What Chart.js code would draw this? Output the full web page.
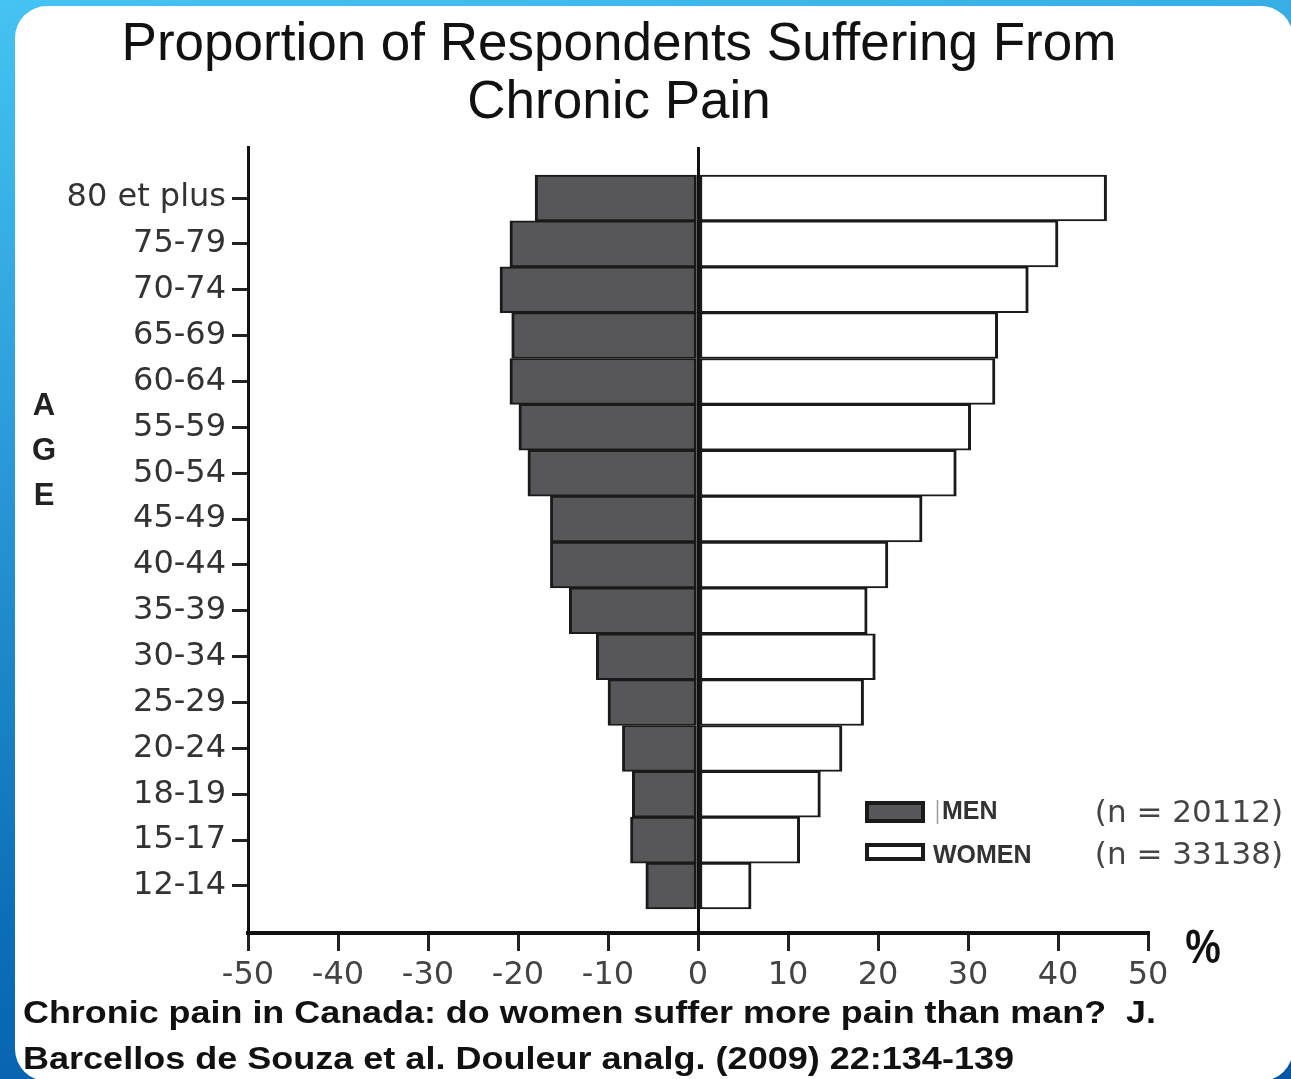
<!DOCTYPE html>
<html><head><meta charset="utf-8">
<script src="https://cdn.jsdelivr.net/npm/chart.js@4.4.1/dist/chart.umd.min.js"></script>
<style>
html,body{margin:0;padding:0;width:1291px;height:1079px;overflow:hidden;}
body{background:linear-gradient(170deg,#45c3f2 0%,#2a9ad6 35%,#0d6fb8 70%,#0356a3 100%);position:relative;}
#panel{position:absolute;left:15px;top:6px;width:1278px;height:1075px;background:#fff;border-radius:32px;}
#wrap{position:absolute;left:0;top:0;width:1291px;height:1079px;}
.cite{position:absolute;left:23px;font-family:'Liberation Sans',Arial,sans-serif;font-weight:bold;font-size:32px;line-height:34px;color:#111;white-space:nowrap;transform-origin:0 50%;display:inline-block;}
</style></head><body>
<div id="panel"></div>
<div id="wrap"><canvas id="c"></canvas></div>
<div class="cite" id="cite1" style="top:995px">Chronic pain in Canada: do women suffer more pain than man?&nbsp; J.</div>
<div class="cite" id="cite2" style="top:1041px">Barcellos de Souza et al. Douleur analg. (2009) 22:134-139</div>
<script>
const titleLines = ['Proportion of Respondents Suffering From', 'Chronic Pain'];
const ageLabels = ['80 et plus','75-79','70-74','65-69','60-64','55-59','50-54','45-49','40-44','35-39','30-34','25-29','20-24','18-19','15-17','12-14'];
const menValues = [-18.1, -20.9, -22.0, -20.7, -20.9, -19.9, -18.9, -16.4, -16.4, -14.3, -11.3, -10.0, -8.4, -7.3, -7.5, -5.8];
const womenValues = [45.4, 40.0, 36.7, 33.3, 33.0, 30.3, 28.7, 24.9, 21.1, 18.8, 19.7, 18.4, 16.0, 13.6, 11.3, 5.9];
const xTickValues = [-50, -40, -30, -20, -10, 0, 10, 20, 30, 40, 50];
const seriesNames = ['MEN', 'WOMEN'];
const sampleSizes = ['(n = 20112)', '(n = 33138)'];
const yAxisTitle = ['A', 'G', 'E'];
const unitLabel = '%';

Chart.defaults.font.family = "'DejaVu Sans', sans-serif";

const toPoints = (vals) => vals.map((v, i) => ({x: v, y: i}));

const overlay = {
  id: 'overlay',
  afterDraw(chart) {
    const ctx = chart.ctx;
    const ds = chart.data.datasets;
    ctx.save();
    const sw = [{y: 801, h: 22}, {y: 843, h: 18}];
    ds.forEach((d, i) => {
      ctx.fillStyle = d.backgroundColor;
      ctx.fillRect(865, sw[i].y, 60, sw[i].h);
      ctx.strokeStyle = '#1a1a1a';
      ctx.lineWidth = 4;
      ctx.strokeRect(867, sw[i].y + 2, 56, sw[i].h - 4);
    });
    ctx.strokeStyle = '#999';
    ctx.lineWidth = 1.5;
    ctx.beginPath(); ctx.moveTo(937.5, 800); ctx.lineTo(937.5, 824); ctx.stroke();
    ctx.fillStyle = '#333';
    ctx.font = "bold 25px 'Liberation Sans', Arial, sans-serif";
    ctx.textBaseline = 'middle';
    ctx.textAlign = 'left';
    ctx.fillText(ds[0].label, 942, 812);
    ctx.fillText(ds[1].label, 933, 856);
    ctx.fillStyle = '#444';
    ctx.font = "31px 'DejaVu Sans', sans-serif";
    ctx.textAlign = 'right';
    ctx.fillText(sampleSizes[0], 1283, 814);
    ctx.fillText(sampleSizes[1], 1283, 856);
    ctx.fillStyle = '#222';
    ctx.font = "bold 31px 'Liberation Sans', Arial, sans-serif";
    ctx.textAlign = 'center';
    yAxisTitle.forEach((ch, i) => ctx.fillText(ch, 44, 406 + i * 45));
    ctx.save();
    ctx.translate(1203, 950);
    ctx.scale(1, 1.2);
    ctx.font = "bold 40px 'Liberation Sans', Arial, sans-serif";
    ctx.fillStyle = '#111';
    ctx.fillText(unitLabel, 0, 0);
    ctx.restore();
    ctx.restore();
  }
};

new Chart(document.getElementById('c'), {
  type: 'bar',
  data: {
    datasets: [
      {label: seriesNames[0], data: toPoints(menValues), backgroundColor: '#575759', borderColor: '#1a1a1a',
       borderWidth: {top: 2, bottom: 2, left: 3, right: 3}, borderSkipped: false},
      {label: seriesNames[1], data: toPoints(womenValues), backgroundColor: '#ffffff', borderColor: '#1a1a1a',
       borderWidth: {top: 2, bottom: 2, left: 3, right: 3}, borderSkipped: false}
    ]
  },
  options: {
    indexAxis: 'y',
    responsive: true,
    maintainAspectRatio: false,
    animation: false,
    devicePixelRatio: 1,
    layout: {padding: {left: 0, right: 53, top: 0, bottom: 0}},
    datasets: {bar: {barPercentage: 1, categoryPercentage: 1}},
    plugins: {
      legend: {display: false},
      tooltip: {enabled: false},
      title: {
        display: true, text: titleLines, color: '#111',
        font: {family: "'Liberation Sans', Arial, sans-serif", size: 53, weight: 'normal', lineHeight: 1.1},
        padding: {top: 16, bottom: 14.4}
      }
    },
    scales: {
      x: {
        type: 'linear', min: -50, max: 50, stacked: true,
        afterBuildTicks: (s) => { s.ticks = xTickValues.map(v => ({value: v})); },
        afterFit: (s) => { s.height = 146; },
        ticks: {color: '#444', font: {size: 32}, padding: 5, callback: (v) => String(v)},
        grid: {
          drawOnChartArea: true, drawTicks: true, tickLength: 18, tickWidth: 3, tickColor: '#222',
          lineWidth: 3,
          color: (c) => (c.tick && c.tick.value === 0) ? '#111' : 'rgba(0,0,0,0)'
        },
        border: {display: true, color: '#111', width: 4}
      },
      y: {
        type: 'linear', min: -1.112, max: 16.025, reverse: true, stacked: true, offset: false, bounds: 'data',
        afterBuildTicks: (s) => { s.ticks = ageLabels.map((_, i) => ({value: i})); },
        afterFit: (s) => { s.width = 248; },
        ticks: {color: '#333', font: {size: 32}, padding: 6, autoSkip: false, callback: (v) => ageLabels[v]},
        grid: {drawOnChartArea: false, drawTicks: true, tickLength: 16, tickWidth: 3, tickColor: '#222', offset: false},
        border: {display: true, color: '#111', width: 3}
      },
      yr: {
        type: 'linear', position: 'right', display: true,
        afterFit: (s) => { s.width = 90; },
        ticks: {display: false}, grid: {display: false}, border: {display: false}
      }
    }
  },
  plugins: [overlay]
});

function fit(id, w) {
  const el = document.getElementById(id);
  const cur = el.getBoundingClientRect().width;
  el.style.transform = 'scaleX(' + (w / cur) + ')';
}
fit('cite1', 1133);
fit('cite2', 991);
</script>
</body></html>
